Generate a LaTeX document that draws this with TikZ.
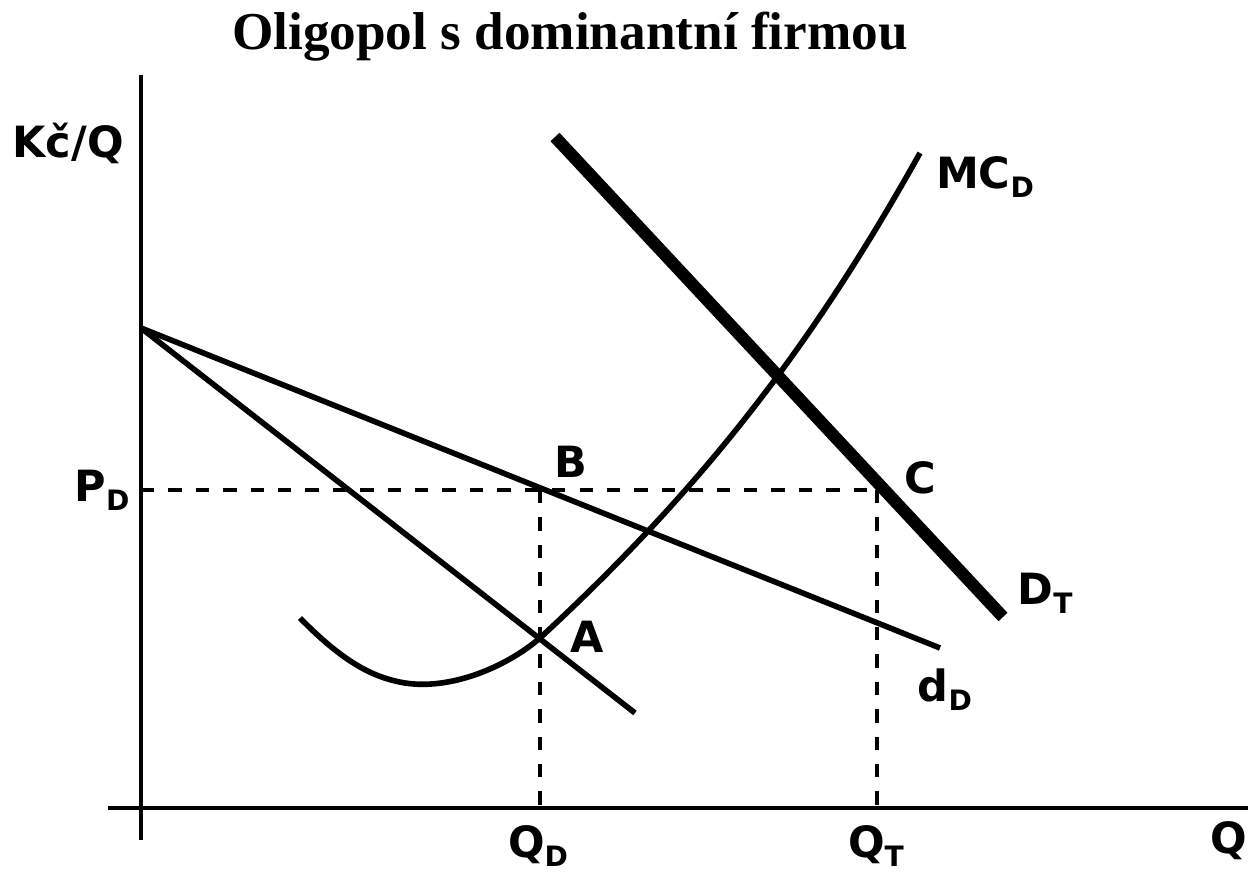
\documentclass[tikz,border=0pt]{standalone}
\usepackage{fontspec}
\setmainfont{DejaVu Sans}
\newfontfamily\titlefont{Liberation Serif}
\usepackage{tikz}
\usetikzlibrary{positioning}

\newcommand{\sublab}[2]{#1\raisebox{-5pt}{\fontsize{16}{16}\selectfont #2}}

\begin{document}
\begin{tikzpicture}[
  x=0.02cm, y=-0.02cm,
  axis/.style={line width=2.6pt},
  curve/.style={line width=3.2pt, line cap=butt},
  demand/.style={line width=7pt},
  guide/.style={line width=2.2pt, dash pattern=on 7.6pt off 8pt},
  lbl/.style={font=\bfseries\fontsize{24.5}{28}\selectfont, inner sep=0pt},
]
\useasboundingbox (0,0) rectangle (1248,874);

%% -- Title ------------------------------------------------------
\node[font=\titlefont\bfseries\fontsize{30.3}{34}\selectfont, inner sep=0pt] (title) at (570,37) {Oligopol s dominantní firmou};

%% -- Axes -------------------------------------------------------
\coordinate (ytop) at (141,75);
\coordinate (ybot) at (141,840);
\coordinate (xleft) at (108,808);
\coordinate (xright) at (1248,808);
\draw[axis] (ytop) -- (ybot);
\draw[axis] (xleft) -- (xright);

%% -- Points -----------------------------------------------------
\coordinate (P0) at (141,328);
\coordinate (dEnd) at (940,648);
\coordinate (mrEnd) at (635,713);
\coordinate (DTtop) at (555,137);
\coordinate (DTend) at (1003,617);
\coordinate (PD) at (141,490);
\coordinate (B) at (540,490);
\coordinate (C) at (877,490);
\coordinate (QD) at (540,808);
\coordinate (QT) at (877,808);
\coordinate (mcStart) at (300,618);
\coordinate (mcLow) at (405,683);
\coordinate (A) at (540,638);
\coordinate (mcEnd) at (920,153);

%% -- Curves -----------------------------------------------------
\draw[curve] (P0) -- (dEnd);
\draw[curve] (P0) -- (mrEnd);
\draw[demand] (DTtop) -- (DTend);
\draw[curve] (mcStart) .. controls (345,664) and (375,678) .. (mcLow)
  .. controls (450,690) and (505,668) .. (A)
  .. controls (700,490) and (810,350) .. (mcEnd);

%% -- Guides -----------------------------------------------------
\draw[guide] (PD) -- (C);
\draw[guide] (B) -- (QD);
\draw[guide] (C) -- (QT);

%% -- Labels -----------------------------------------------------
\node[lbl] (kcq) at (68,143) {Kč/Q};
\node[lbl] (pd) at (102,490) {\sublab{P}{D}};
\node[lbl] (lb) at (571,462) {B};
\node[lbl] (lc) at (920,478) {C};
\node[lbl] (la) at (587,637) {A};
\node[lbl] (mcd) at (985,177) {\sublab{MC}{D}};
\node[lbl] (dt) at (1045,593) {\sublab{D}{T}};
\node[lbl] (dd) at (945,690) {\sublab{d}{D}};
\node[lbl] (qd) at (538,846) {\sublab{Q}{D}};
\node[lbl] (qt) at (876,846) {\sublab{Q}{T}};
\node[lbl] (q) at (1229,841) {Q};
\end{tikzpicture}
\end{document}
